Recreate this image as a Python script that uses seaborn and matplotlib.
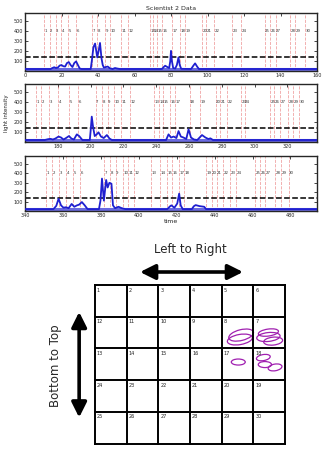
import numpy as np
import pandas as pd
import seaborn as sns
import matplotlib
matplotlib.use("Agg")
import matplotlib.pyplot as plt
from matplotlib.patches import Ellipse

# ---------------- data ----------------
threshold = 140

# marker times (one set of 30 per segment)
markers_1 = [10.4, 13.5, 16.8, 19.7, 23.6, 27.8, 36.6, 39.7, 43.9, 46.8, 52.5, 56.5,
             68.4, 70.4, 72.6, 75.3, 80.8, 85.0, 87.4, 97.1, 99.1, 103.7, 113.3, 118.3,
             131.3, 134.4, 137.3, 145.3, 148.1, 153.4]
markers_2 = [166.9, 169.8, 174.9, 180.2, 187.1, 192.2, 203.0, 207.0, 210.3, 214.2, 218.4, 224.3,
             238.8, 241.5, 244.1, 248.4, 251.4, 260.3, 266.7, 276.2, 279.1, 283.4, 291.7, 293.9,
             309.6, 312.0, 315.3, 320.2, 323.5, 326.9]
markers_3 = [351.2, 354.2, 358.1, 361.6, 365.4, 369.0, 381.8, 384.9, 387.8, 391.8, 394.4, 397.3,
             406.2, 411.1, 415.1, 417.7, 421.2, 423.8, 435.7, 438.4, 441.0, 444.5, 448.3, 451.4,
             461.2, 464.0, 466.7, 471.8, 475.1, 479.0]
marker_labels = [str(i) for i in range(1, 31)]

# light intensity traces
time_1 = [0, 14, 15, 16, 17, 18, 19, 20, 21, 22, 23, 24, 25, 26, 27, 28, 29, 30, 31,
          36, 36.6, 37.5, 38.4, 39.6, 40.3, 41.1, 41.9, 42.6, 43.2, 44.3, 45.3, 46.5, 48,
          49.3, 50.5, 52, 75, 76, 76.8, 78, 79, 79.6, 80.0, 80.5, 81.2, 82.3, 83.2, 84.1,
          84.8, 85.6, 91, 92.3, 93.2, 94.3, 95.3, 160]
value_1 = [20, 20, 30, 38, 30, 35, 55, 60, 48, 45, 80, 90, 60, 40, 80, 97, 60, 25, 20,
           20, 100, 240, 277, 137, 200, 283, 130, 60, 35, 40, 45, 28, 20,
           30, 25, 20, 20, 40, 53, 40, 30, 100, 203, 100, 30, 25, 60, 137,
           60, 22, 20, 55, 77, 45, 20, 20]

time_2 = [160, 172, 174, 175.5, 177, 178.5, 180.5, 182, 183.5, 185, 186.8, 188.3, 189.8,
          191.6, 193, 195, 199.5, 200.0, 200.7, 201.5, 202.5, 203.6, 204.8, 206.3, 208,
          209.9, 211.5, 213, 246, 247.5, 249, 250.6, 252.3, 253.6, 255, 256.6, 258.3, 259.7,
          261.2, 263, 265, 267.9, 270, 271.8, 273, 274.6, 338]
value_2 = [20, 20, 28, 32, 25, 35, 55, 45, 25, 40, 60, 35, 25,
           77, 60, 20, 20, 110, 256, 150, 60, 75, 98, 55, 40,
           70, 35, 20, 20, 77, 45, 55, 40, 110, 55, 45, 30, 128,
           45, 25, 20, 70, 45, 30, 37, 20, 20]

time_3 = [340, 355, 356.5, 357.7, 359, 360.3, 361.6, 363, 364.6, 366, 367.4, 368.5,
          370, 371.5, 373, 379, 379.8, 380.6, 381.6, 382.8, 383.6, 384.5, 385.6, 386.4,
          387.5, 389.3, 391, 393, 415, 416.5, 417.2, 418.8, 420.3, 421.3, 422.1, 423.2,
          428, 429, 430, 432, 434.5, 435.5, 494]
value_3 = [20, 20, 55, 130, 60, 35, 40, 30, 75, 45, 60, 67,
           95, 60, 20, 20, 110, 345, 110, 330, 250, 300, 290, 60,
           30, 45, 30, 20, 20, 50, 60, 35, 80, 185, 60, 20,
           20, 50, 63, 52, 45, 20, 20]

segments = [
    dict(time=time_1, value=value_1, markers=markers_1, xlim=(0, 160),
         xticks=[0, 20, 40, 60, 80, 100, 120, 140, 160]),
    dict(time=time_2, value=value_2, markers=markers_2, xlim=(160, 338),
         xticks=[180, 200, 220, 240, 260, 280, 300, 320]),
    dict(time=time_3, value=value_3, markers=markers_3, xlim=(340, 494),
         xticks=[340, 360, 380, 400, 420, 440, 460, 480]),
]
yticks = [100, 200, 300, 400, 500]

# grid of cells (serpentine numbering)
cell_numbers = [
    [1, 2, 3, 4, 5, 6],
    [12, 11, 10, 9, 8, 7],
    [13, 14, 15, 16, 17, 18],
    [24, 23, 22, 21, 20, 19],
    [25, 26, 27, 28, 29, 30],
]
# ellipses drawn in grid units: centre x, centre y, width, height, angle
ellipse_x = [4.61, 4.57, 5.47, 5.47, 5.62, 4.52, 5.31, 5.36, 5.68]
ellipse_y = [1.58, 1.72, 1.50, 1.64, 1.77, 2.43, 2.29, 2.51, 2.60]
ellipse_w = [0.80, 0.80, 0.64, 0.74, 0.60, 0.44, 0.44, 0.42, 0.44]
ellipse_h = [0.34, 0.32, 0.22, 0.28, 0.25, 0.19, 0.19, 0.19, 0.21]
ellipse_a = [-14, -10, -8, -6, -6, 0, -10, 0, -10]

# ---------------- style ----------------
sns.set_style("ticks")
plt.rcParams["font.family"] = ["DejaVu Sans"]
plt.rcParams["xtick.direction"] = "in"
plt.rcParams["ytick.direction"] = "in"

W, H = 331, 463
fig = plt.figure(figsize=(W / 100, H / 100), dpi=100)


def frac(left, top, right, bottom):
    return [left / W, 1 - bottom / H, (right - left) / W, (bottom - top) / H]


panel_boxes = [(25, 13, 317, 71), (25, 84, 317, 142), (25, 156, 317, 211)]

axes = []
for seg, box in zip(segments, panel_boxes):
    ax = fig.add_axes(frac(*box))
    axes.append(ax)
    df = pd.DataFrame({"time": seg["time"], "intensity": seg["value"]})
    for m, lab in zip(seg["markers"], marker_labels):
        ax.axvline(m, color="#e04848", ls="--", lw=0.6, alpha=0.5, zorder=1)
        ax.text(m + 0.3, 400, lab, fontsize=2.8, ha="left", va="center", color="#333333")
    ax.axhline(threshold, color="black", ls="--", lw=1.1, zorder=2)
    sns.lineplot(data=df, x="time", y="intensity", ax=ax, color="#1f1fd0",
                 lw=1.3, estimator=None, sort=False, zorder=3)
    ax.plot(seg["xlim"], [20, 20], color="#6a6ae0", lw=2.2, zorder=2.5)
    ax.set_xlim(*seg["xlim"])
    ax.set_ylim(0, 585)
    ax.set_xticks(seg["xticks"])
    ax.set_yticks(yticks)
    ax.tick_params(labelsize=3.5, length=2, width=0.6, pad=1.5,
                   top=True, right=True)
    ax.set_xlabel("")
    ax.set_ylabel("")
    for sp in ax.spines.values():
        sp.set_linewidth(1.0)

axes[0].set_title("Scientist 2 Data", fontsize=4.5, pad=2)
axes[1].set_ylabel("light intensity", fontsize=4, labelpad=3)
axes[2].set_xlabel("time", fontsize=4.5, labelpad=1)

# ---------------- grid diagram ----------------
gx0, gy0, cell = 95, 285, 31.7
gax = fig.add_axes([0, 0, 1, 1 - 230 / H])
gax.set_xlim((0 - gx0) / cell, (W - gx0) / cell)
gax.set_ylim((H - gy0) / cell, (230 - gy0) / cell)
gax.set_aspect("auto")
gax.axis("off")

n_rows = len(cell_numbers)
n_cols = len(cell_numbers[0])
for r in range(n_rows + 1):
    gax.plot([0, n_cols], [r, r], color="black", lw=1.4, solid_capstyle="projecting")
for c in range(n_cols + 1):
    gax.plot([c, c], [0, n_rows], color="black", lw=1.4, solid_capstyle="projecting")
for r, row in enumerate(cell_numbers):
    for c, num in enumerate(row):
        gax.text(c + 0.06, r + 0.08, str(num), fontsize=3.6, ha="left", va="top",
                 color="#222222")

for x, y, w, h, a in zip(ellipse_x, ellipse_y, ellipse_w, ellipse_h, ellipse_a):
    gax.add_patch(Ellipse((x, y), w, h, angle=a, fill=False,
                          edgecolor="#a020b0", lw=0.9))

arrow_kw = dict(arrowstyle="<|-|>,head_length=0.9,head_width=0.45",
                color="black", lw=2.6, shrinkA=0, shrinkB=0, mutation_scale=10)
gax.annotate("", xy=(4.67, -0.41), xytext=(1.42, -0.41), arrowprops=arrow_kw)
gax.annotate("", xy=(-0.5, 4.18), xytext=(-0.5, 0.85), arrowprops=arrow_kw)
gax.text(3.0, -1.11, "Left to Right", fontsize=8.5, ha="center", va="center")
gax.text(-1.26, 2.53, "Bottom to Top", fontsize=8.5, ha="center", va="center",
         rotation=90)

fig.savefig("out.png", dpi=100)
